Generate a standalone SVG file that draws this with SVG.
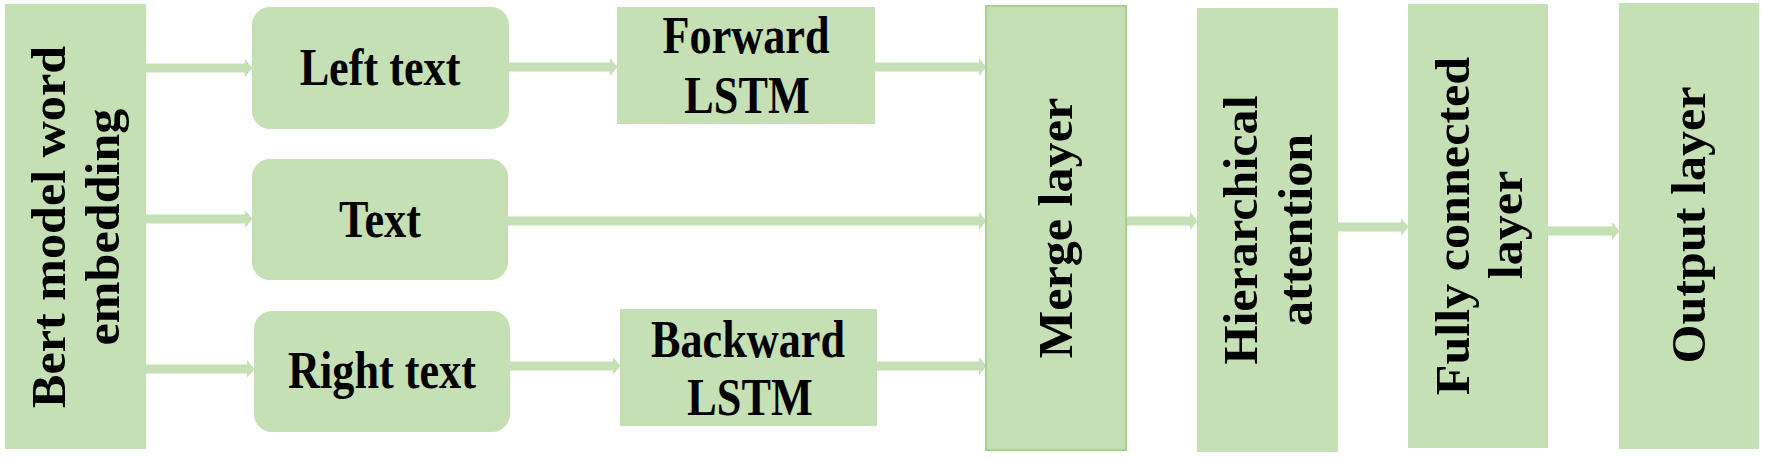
<svg xmlns="http://www.w3.org/2000/svg" width="1765" height="458" viewBox="0 0 1765 458">
<style>
.box{fill:#C5E0B4;}
.merge{fill:#C5E0B4;stroke:#A9D18E;stroke-width:2;}
.lbl{font-family:"Liberation Serif","Times New Roman",serif;font-weight:bold;font-size:52px;fill:#000;text-anchor:middle;}
.vl{font-family:"Liberation Serif","Times New Roman",serif;font-weight:bold;font-size:48px;fill:#000;text-anchor:middle;}
.conn line{stroke:#C5E0B4;stroke-width:9;fill:none;}
</style>
<defs>
<marker id="ah" markerUnits="userSpaceOnUse" markerWidth="8" markerHeight="18" refX="0" refY="9" orient="auto">
<path d="M0,0 L7.5,9 L0,18 Z" fill="#C5E0B4"/>
</marker>
</defs>
<rect width="1765" height="458" fill="#fff"/>
<g class="conn" id="connectors">
<line x1="146" y1="68" x2="245" y2="68" marker-end="url(#ah)"/>
<line x1="146" y1="219" x2="245" y2="219" marker-end="url(#ah)"/>
<line x1="146" y1="369" x2="247" y2="369" marker-end="url(#ah)"/>
<line x1="509" y1="67" x2="610" y2="67" marker-end="url(#ah)"/>
<line x1="875" y1="67" x2="979" y2="67" marker-end="url(#ah)"/>
<line x1="508" y1="221" x2="979" y2="221" marker-end="url(#ah)"/>
<line x1="510" y1="366" x2="613" y2="366" marker-end="url(#ah)"/>
<line x1="877" y1="366" x2="979" y2="366" marker-end="url(#ah)"/>
<line x1="1126" y1="221" x2="1190" y2="221" marker-end="url(#ah)"/>
<line x1="1338" y1="227" x2="1401" y2="227" marker-end="url(#ah)"/>
<line x1="1548" y1="231" x2="1612" y2="231" marker-end="url(#ah)"/>
</g>
<g id="bert">
<rect class="box" x="5" y="4" width="141" height="445"/>
<text class="vl" transform="translate(65,227) rotate(-90) scale(1.045,1)">Bert model word</text>
<text class="vl" transform="translate(119,227) rotate(-90) scale(1.045,1)">embedding</text>
</g>
<g id="left-text">
<rect class="box" x="252" y="7" width="257" height="122" rx="18"/>
<text class="lbl" transform="translate(380,85) scale(0.85,1)">Left text</text>
</g>
<g id="text">
<rect class="box" x="252" y="159" width="256" height="121" rx="18"/>
<text class="lbl" transform="translate(380,237) scale(0.85,1)">Text</text>
</g>
<g id="right-text">
<rect class="box" x="254" y="311" width="256" height="121" rx="18"/>
<text class="lbl" transform="translate(382,388) scale(0.85,1)">Right text</text>
</g>
<g id="forward-lstm">
<rect class="box" x="617" y="7" width="258" height="117"/>
<text class="lbl" transform="translate(746,53) scale(0.85,1)">Forward</text>
<text class="lbl" transform="translate(747,113) scale(0.85,1)">LSTM</text>
</g>
<g id="backward-lstm">
<rect class="box" x="620" y="309" width="257" height="117"/>
<text class="lbl" transform="translate(748,357) scale(0.85,1)">Backward</text>
<text class="lbl" transform="translate(750,415) scale(0.85,1)">LSTM</text>
</g>
<g id="merge-layer">
<rect class="merge" x="986" y="6" width="140" height="444"/>
<text class="vl" transform="translate(1072,228) rotate(-90) scale(1.045,1)">Merge layer</text>
</g>
<g id="hierarchical-attention">
<rect class="box" x="1197" y="8" width="141" height="444"/>
<text class="vl" transform="translate(1257,230) rotate(-90) scale(1.045,1)">Hierarchical</text>
<text class="vl" transform="translate(1312,230) rotate(-90) scale(1.045,1)">attention</text>
</g>
<g id="fully-connected-layer">
<rect class="box" x="1408" y="4" width="140" height="444"/>
<text class="vl" transform="translate(1469,226) rotate(-90) scale(1.045,1)">Fully connected</text>
<text class="vl" transform="translate(1522,225) rotate(-90) scale(1.045,1)">layer</text>
</g>
<g id="output-layer">
<rect class="box" x="1619" y="3" width="140" height="446"/>
<text class="vl" transform="translate(1705,225) rotate(-90) scale(1.045,1)">Output layer</text>
</g>
</svg>
